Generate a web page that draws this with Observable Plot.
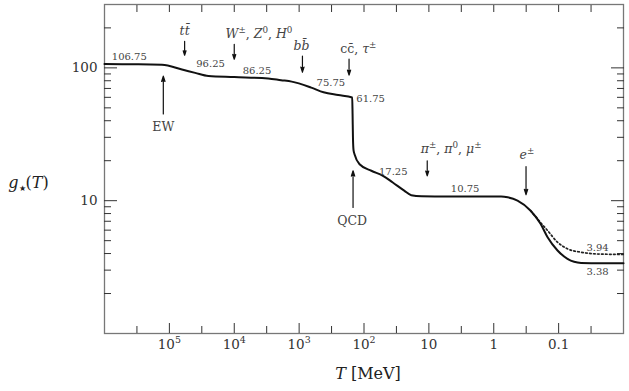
<!DOCTYPE html>
<html><head><meta charset="utf-8">
<script src="https://cdn.jsdelivr.net/npm/d3@7"></script>
<script src="https://cdn.jsdelivr.net/npm/@observablehq/plot@0.6"></script>
<style>
html,body{margin:0;padding:0;background:#fff;}
#chart svg, #chart svg text, #chart svg tspan { font-family: "DejaVu Serif", serif !important; }
</style>
</head><body><div id="chart"></div>
<script>
// ---- data ----
const solidT = [1e6, 3e5, 1.3e5, 6.4e4, 4e4, 2.5e4, 1e4, 3e3, 1.9e3, 1.3e3, 650, 420, 250, 152, 150, 148, 145, 140, 117, 77, 51, 36, 24, 18.7, 13, 5, 1, 0.77, 0.61, 0.43, 0.27, 0.19, 0.148, 0.104, 0.073, 0.045, 0.022, 0.01];
const solidG = [106.75, 106.6, 105.5, 97.3, 91.7, 86.8, 85.3, 83.3, 80.8, 78.8, 71, 65.5, 62.4, 59.8, 45, 30, 24, 22.4, 18.8, 16.8, 15.4, 13.7, 11.9, 11, 10.8, 10.75, 10.75, 10.75, 10.6, 10.0, 8.4, 6.7, 5.3, 4.22, 3.65, 3.4, 3.38, 3.38];
const dottedT = [0.27, 0.19, 0.148, 0.104, 0.073, 0.045, 0.022, 0.01];
const dottedG = [8.4, 6.85, 5.96, 4.87, 4.34, 4.09, 3.96, 3.94];

const valueText = ["106.75", "96.25", "86.25", "75.75", "61.75", "17.25", "10.75", "3.94", "3.38"];
const valueT = [4.15e5, 2.32e4, 4.46e3, 324, 79, 35.4, 2.76, 0.0251, 0.0251];
const valueG = [120.3, 106.6, 95.6, 77.2, 58.5, 16.6, 12.2, 4.42, 2.90];

const particleText = ["tt̄", "W±, Z0, H0", "bb̄", "cc̄, τ±", "π±, π0, μ±", "e±", "EW", "QCD"];
const particleT = [5.82e4, 4.15e3, 923, 122.5, 4.54, 0.308, 1.24e5, 152.5];
const particleG = [188.5, 179, 145.5, 138, 24.5, 22.1, 35.9, 7.08];

const arrowT = [5.82e4, 1e4, 889, 170, 10.6, 0.318, 1.24e5, 147.5];
const arrowFromG = [158.5, 150.6, 122.4, 116.2, 19.95, 18.07, 45, 8.9];
const arrowToG = [124.5, 116.2, 92.8, 88.2, 15.4, 11.1, 86.6, 16.8];

const xMajor = [1e5, 1e4, 1e3, 100, 10, 1, 0.1];
const xTickLabels = ["10^5", "10^4", "10^3", "10^2", "10", "1", "0.1"];
const xMinor = [316228, 31623, 3162.3, 316.23, 31.623, 3.1623, 0.31623, 0.031623];
const yMajor = [10, 100];
const yTickLabels = ["10", "100"];
const yMinor = [2, 3, 4, 5, 6, 7, 8, 9, 20, 30, 40, 50, 60, 70, 80, 90, 200];

// ---- tables ----
const solid = solidT.map((T, i) => ({T, g: solidG[i]}));
const dotted = dottedT.map((T, i) => ({T, g: dottedG[i]}));
const values = valueText.map((text, i) => ({text, T: valueT[i], g: valueG[i]}));
const particles = particleText.map((text, i) => ({text, T: particleT[i], g: particleG[i]}));
const arrows = arrowT.map((T, i) => ({T, g1: arrowFromG[i], g2: arrowToG[i]}));
const xFmt = new Map(xMajor.map((v, i) => [v, xTickLabels[i]]));
const yFmt = new Map(yMajor.map((v, i) => [v, yTickLabels[i]]));

const serif = "DejaVu Serif";
const tickColor = "#333";
const chart = Plot.plot({
  width: 629, height: 391,
  marginLeft: 104, marginRight: 6, marginTop: 4, marginBottom: 58,
  x: {type: "log", domain: [1e6, 0.01], label: null},
  y: {type: "log", domain: [1, 300], label: null},
  style: {fontFamily: serif, background: "white", color: "#222"},
  marks: [
    Plot.frame({stroke: "#777", strokeWidth: 1.3}),
    // inward ticks
    Plot.axisX(xMajor, {anchor: "bottom", tickSize: -10, fill: "none", stroke: tickColor}),
    Plot.axisX(xMinor, {anchor: "bottom", tickSize: -7, fill: "none", stroke: tickColor}),
    Plot.axisX(xMajor, {anchor: "top", tickSize: -7, fill: "none", stroke: tickColor}),
    Plot.axisX(xMinor, {anchor: "top", tickSize: -7, fill: "none", stroke: tickColor}),
    Plot.axisY(yMajor, {anchor: "left", tickSize: -13, fill: "none", stroke: tickColor}),
    Plot.axisY(yMinor, {anchor: "left", tickSize: -7, fill: "none", stroke: tickColor}),
    Plot.axisY(yMajor, {anchor: "right", tickSize: -13, fill: "none", stroke: tickColor}),
    Plot.axisY(yMinor, {anchor: "right", tickSize: -7, fill: "none", stroke: tickColor}),
    // tick labels
    Plot.axisX(xMajor, {anchor: "bottom", tickSize: 0, tickPadding: 6, tickFormat: d => xFmt.get(d), fontSize: 13.5, fill: "#333"}),
    Plot.axisY(yMajor, {anchor: "left", tickSize: 0, tickPadding: 7, tickFormat: d => yFmt.get(d), fontSize: 13.5, fill: "#333"}),
    // axis titles
    Plot.text(["g⋆(T)"], {text: d => d, frameAnchor: "left", dx: -76, dy: 13.5, fontSize: 16, textAnchor: "middle", fill: "#222"}),
    Plot.text(["T [MeV]"], {text: d => d, frameAnchor: "bottom", dx: 4, dy: 45, fontSize: 16, textAnchor: "middle", fill: "#222"}),
    // curves
    Plot.line(dotted, {x: "T", y: "g", stroke: "#222", strokeWidth: 1.7, strokeDasharray: "1.6 2.4", curve: "monotone-x"}),
    Plot.line(solid, {x: "T", y: "g", stroke: "#111", strokeWidth: 2, curve: "monotone-x"}),
    // annotations
    Plot.arrow(arrows, {x1: "T", y1: "g1", x2: "T", y2: "g2", stroke: "#111", strokeWidth: 1.2, headLength: 7, headAngle: 35}),
    Plot.text(particles, {x: "T", y: "g", text: "text", fontSize: 12.5, fill: "#444"}),
    Plot.text(values, {x: "T", y: "g", text: "text", fontSize: 10, fill: "#444"})
  ]
});

// ---- rich text (italics, super/subscripts) ----
const R = (t, o = {}) => ({t, ...o});
const RICH = {
  "g⋆(T)": [R("g", {i: 1}), R("★", {sub: 1, size: 0.5}), R("("), R("T", {i: 1}), R(")")],
  "T [MeV]": [R("T", {i: 1}), R(" [MeV]")],
  "tt̄": [R("tt̄", {i: 1})],
  "W±, Z0, H0": [R("W", {i: 1}), R("±", {sup: 1}), R(", "), R("Z", {i: 1}), R("0", {sup: 1}), R(", "), R("H", {i: 1}), R("0", {sup: 1})],
  "bb̄": [R("bb̄", {i: 1})],
  "cc̄, τ±": [R("cc̄"), R(", "), R("τ", {i: 1}), R("±", {sup: 1})],
  "π±, π0, μ±": [R("π", {i: 1}), R("±", {sup: 1}), R(", "), R("π", {i: 1}), R("0", {sup: 1}), R(", "), R("μ", {i: 1}), R("±", {sup: 1})],
  "e±": [R("e", {i: 1}), R("±", {sup: 1})]
};
function richify(root) {
  root.querySelectorAll("text").forEach(el => {
    if (el.querySelector("tspan")) return;
    const key = el.textContent;
    let segs = RICH[key];
    const m = /^(\d+)\^(\S+)$/.exec(key);
    if (!segs && m) segs = [R(m[1]), R(m[2], {sup: 1})];
    if (!segs) return;
    el.textContent = "";
    let shift = 0;
    for (const s of segs) {
      const ts = document.createElementNS("http://www.w3.org/2000/svg", "tspan");
      ts.textContent = s.t;
      if (s.i) ts.setAttribute("font-style", "italic");
      if (s.sup || s.sub) {
        const k = s.size || 0.7;
        const target = s.sup ? -0.42 : 0.2;
        ts.setAttribute("font-size", (k * 100) + "%");
        ts.setAttribute("dy", ((target - shift) / k).toFixed(3) + "em");
        shift = target;
      } else if (shift) {
        ts.setAttribute("dy", (-shift).toFixed(3) + "em");
        shift = 0;
      }
      el.appendChild(ts);
    }
  });
}
richify(chart);
// filled arrowheads (the head sub-path closes implicitly when filled)
chart.querySelectorAll('g[aria-label="arrow"] path').forEach(p => p.setAttribute("fill", "#111"));
document.getElementById("chart").appendChild(chart);
</script>
</body></html>
